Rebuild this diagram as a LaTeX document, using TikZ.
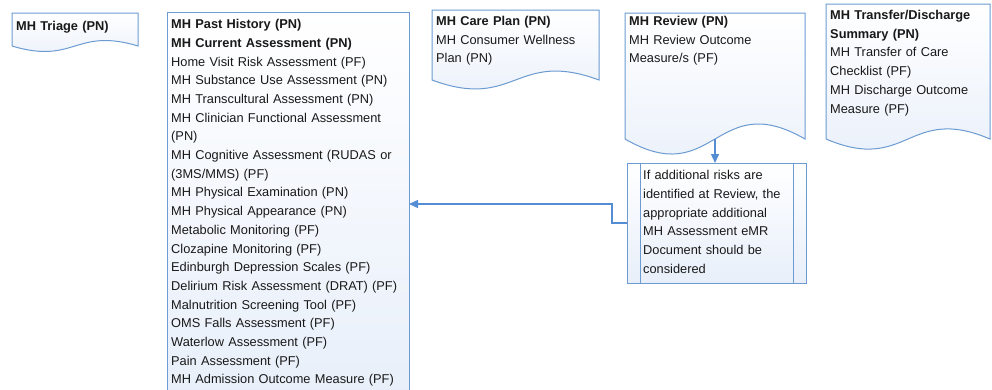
\documentclass[tikz,border=0pt]{standalone}
\usepackage{fontspec}
\setmainfont{Liberation Sans}
\usetikzlibrary{calc,arrows.meta}
\definecolor{bordercol}{RGB}{108,155,210}
\definecolor{arrowcol}{RGB}{84,141,212}
\definecolor{boxfill}{RGB}{232,239,250}
\definecolor{txt}{RGB}{25,25,25}
\newcommand\docshape[2]{%
  \path[boxline] (#1.north west) -- (#1.north east) -- (#1.south east)
    .. controls ($(#1.south)+(0,-#2)$) and ($(#1.south)+(0,#2)$) .. (#1.south west) -- cycle;}
\begin{document}
\begin{tikzpicture}[x=1pt,y=-1pt,
  boxarea/.style={rectangle, draw=none, inner sep=0pt, outer sep=0pt, anchor=north west},
  boxline/.style={draw=bordercol, line width=1pt, top color=white, bottom color=boxfill},
  boxtext/.style={anchor=base west, inner sep=0pt, align=left, text width=#1,
    font=\fontsize{12.8}{18.7}\selectfont, text=txt},
  conn/.style={draw=arrowcol, line width=1.5pt, -{Triangle[length=9pt,width=8pt]}}]
\useasboundingbox (0,0) rectangle (992,389);

% document-shaped boxes
\node[boxarea, minimum width=126pt, minimum height=33pt] (triage) at (12,13) {};
\docshape{triage}{19}
\node[boxarea, minimum width=167pt, minimum height=70pt] (care) at (432,10) {};
\docshape{care}{31}
\node[boxarea, minimum width=180pt, minimum height=126pt] (review) at (625,13) {};
\docshape{review}{52}
\node[boxarea, minimum width=164pt, minimum height=135pt] (transfer) at (826,4) {};
\docshape{transfer}{35}

% main assessment box
\node[boxarea, boxline, minimum width=242pt, minimum height=388pt] (main) at (167,12) {};

% predefined process box
\node[boxarea, boxline, minimum width=179pt, minimum height=120pt] (proc) at (627,163) {};
\draw[bordercol, line width=1pt] ($(proc.north west)+(13,0)$) -- ($(proc.south west)+(13,0)$);
\draw[bordercol, line width=1pt] ($(proc.north east)+(-13,0)$) -- ($(proc.south east)+(-13,0)$);

% texts
\node[boxtext=120pt] (triagetxt) at (16,30) {\textbf{MH Triage (PN)}};
\node[boxtext=250pt] (maintxt) at (171,28.6) {\textbf{MH Past History (PN)}\\
\textbf{MH Current Assessment (PN)}\\
Home Visit Risk Assessment (PF)\\
MH Substance Use Assessment (PN)\\
MH Transcultural Assessment (PN)\\
MH Clinician Functional Assessment\\
(PN)\\
MH Cognitive Assessment (RUDAS or\\
(3MS/MMS) (PF)\\
MH Physical Examination (PN)\\
MH Physical Appearance (PN)\\
Metabolic Monitoring (PF)\\
Clozapine Monitoring (PF)\\
Edinburgh Depression Scales (PF)\\
Delirium Risk Assessment (DRAT) (PF)\\
Malnutrition Screening Tool (PF)\\
OMS Falls Assessment (PF)\\
Waterlow Assessment (PF)\\
Pain Assessment (PF)\\
MH Admission Outcome Measure (PF)};
\node[boxtext=165pt] (caretxt) at (436,25.5) {\textbf{MH Care Plan (PN)}\\
MH Consumer Wellness\\
Plan (PN)};
\node[boxtext=175pt] (reviewtxt) at (629,25.5) {\textbf{MH Review (PN)}\\
MH Review Outcome\\
Measure/s (PF)};
\node[boxtext=160pt] (transfertxt) at (830,19.5) {\textbf{MH Transfer/Discharge}\\
\textbf{Summary (PN)}\\
MH Transfer of Care\\
Checklist (PF)\\
MH Discharge Outcome\\
Measure (PF)};
\node[boxtext=160pt] (proctxt) at (643,179.6) {If additional risks are\\
identified at Review, the\\
appropriate additional\\
MH Assessment eMR\\
Document should be\\
considered};

% connectors
\draw[conn] (review.south) -- (review.south |- proc.north);
\coordinate (bend) at (612,204);
\draw[conn] (proc.west) -| (bend) -- (main.east |- bend);
\end{tikzpicture}
\end{document}
